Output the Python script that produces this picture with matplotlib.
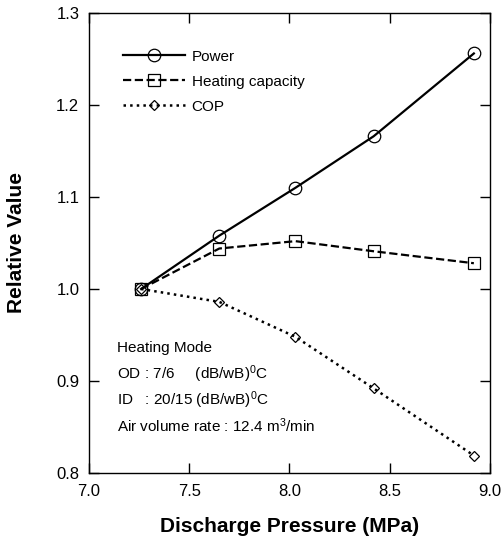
import matplotlib
matplotlib.use('Agg')
import matplotlib.pyplot as plt

plt.rcParams['font.family'] = ['Liberation Sans', 'DejaVu Sans']
plt.rcParams['mathtext.default'] = 'regular'

pressure = [7.26, 7.65, 8.03, 8.42, 8.92]
power = [1.000, 1.058, 1.110, 1.166, 1.256]
heating = [1.000, 1.044, 1.052, 1.041, 1.028]
cop = [1.000, 0.986, 0.948, 0.892, 0.819]

fig = plt.figure(figsize=(5.04, 5.41), dpi=100)
ax = fig.add_axes([0.1766, 0.1257, 0.7954, 0.8503])

ax.plot(pressure, power, '-', color='black', lw=1.6, marker='o', ms=9,
        mfc='none', mec='black', mew=0.9, label='Power')
ax.plot(pressure, heating, '--', color='black', lw=1.6, marker='s', ms=8.5,
        mfc='none', mec='black', mew=0.9, label='Heating capacity')
ax.plot(pressure, cop, ':', color='black', lw=1.8, marker='D', ms=5.5,
        mfc='none', mec='black', mew=0.9, label='COP')

ax.set_xlim(7.0, 9.0)
ax.set_ylim(0.8, 1.3)
ax.set_xticks([7.0, 7.5, 8.0, 8.5, 9.0])
ax.set_yticks([0.8, 0.9, 1.0, 1.1, 1.2, 1.3])
ax.tick_params(direction='in', top=True, right=True, length=7, width=1,
               labelsize=12)
ax.tick_params(axis='x', pad=8)
ax.tick_params(axis='y', pad=7)
for s in ax.spines.values():
    s.set_linewidth(1.0)

ax.set_xlabel('Discharge Pressure (MPa)', fontsize=15, fontweight='bold', labelpad=13)
ax.set_ylabel('Relative Value', fontsize=15, fontweight='bold', labelpad=22)

ax.legend(loc='upper left', bbox_to_anchor=(0.05, 0.95), frameon=False,
          fontsize=11, handlelength=4.1, handletextpad=0.4, labelspacing=0.72)

notes = ['Heating Mode',
         'OD : 7/6     (dB/wB)$^0$C',
         'ID   : 20/15 (dB/wB)$^0$C',
         'Air volume rate : 12.4 m$^3$/min']
for i, t in enumerate(notes):
    ax.text(0.07, 0.272 - i * 0.0565, t, transform=ax.transAxes,
            fontsize=11, va='center', ha='left')

fig.savefig('out.png', dpi=100)
